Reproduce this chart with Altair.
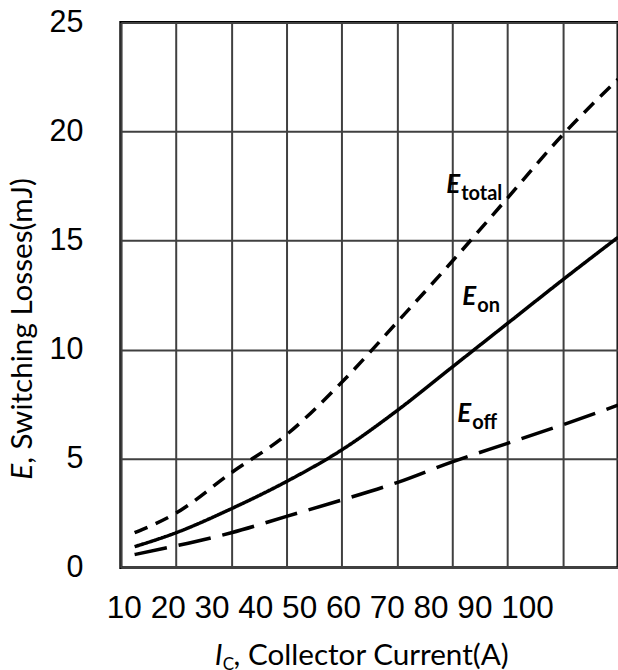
import altair as alt
import pandas as pd

# ---- data ----
ic = [12.5, 20, 30, 40, 50, 60, 70, 80, 90, 100]
e_total = [1.6, 2.5, 4.35, 6.1, 8.5, 11.25, 14.05, 16.95, 19.85, 22.4]
e_on = [0.96, 1.6, 2.7, 3.95, 5.4, 7.2, 9.2, 11.2, 13.2, 15.15]
e_off = [0.6, 1.0, 1.6, 2.35, 3.1, 3.9, 4.85, 5.7, 6.55, 7.45]

series_names = ["Etotal", "Eon", "Eoff"]
x_ticks = [10, 20, 30, 40, 50, 60, 70, 80, 90, 100]
y_ticks = [0, 5, 10, 15, 20, 25]

label_series = ["Etotal", "Eon", "Eoff"]
label_sub = ["total", "on", "off"]
label_x = [68.9, 71.8, 70.9]
label_y = [17.2, 12.04, 6.68]

rows = []
for name, vals in zip(series_names, [e_total, e_on, e_off]):
    for x, v in zip(ic, vals):
        rows.append({"ic": x, "e": v, "series": name})
df = pd.DataFrame(rows)

lab = pd.DataFrame({"series": label_series, "sub": label_sub, "x": label_x, "y": label_y})
ticks_df = pd.DataFrame({"v": x_ticks, "t": [str(v) for v in x_ticks]})
one = pd.DataFrame({"a": [0]})

W, H = 498, 546
xscale = alt.Scale(domain=[10, 100], nice=False, zero=False)
yscale = alt.Scale(domain=[0, 25], nice=False)

xaxis = alt.Axis(values=x_ticks, labels=False, ticks=False, domain=False, title=None,
                 grid=True, gridColor="#404040", gridWidth=2, gridOpacity=1)
yaxis = alt.Axis(values=y_ticks, ticks=False, tickSize=0, domain=False, title=None,
                 grid=True, gridColor="#404040", gridWidth=2, gridOpacity=1,
                 labelFont="Liberation Sans", labelFontSize=30.5, labelColor="black",
                 labelPadding=38)

lines = alt.Chart(df).mark_line(strokeWidth=3.5, interpolate="monotone", color="black",
                                strokeCap="butt").encode(
    x=alt.X("ic:Q", scale=xscale, axis=xaxis),
    y=alt.Y("e:Q", scale=yscale, axis=yaxis),
    strokeDash=alt.StrokeDash("series:N",
                              scale=alt.Scale(domain=series_names,
                                              range=[[14, 9], [1, 0], [33, 12]]),
                              legend=None),
    detail="series:N",
)

lab_E = alt.Chart(lab).mark_text(text="E", font="Lato", fontSize=26, fontStyle="italic",
                                 fontWeight="bold", align="left", baseline="alphabetic",
                                 color="black").encode(
    x=alt.X("x:Q", scale=xscale, axis=None), y=alt.Y("y:Q", scale=yscale, axis=yaxis))
lab_sub = alt.Chart(lab).mark_text(font="Lato", fontSize=20, fontWeight="bold", align="left",
                                   baseline="alphabetic", dx=15, dy=7, color="black").encode(
    x=alt.X("x:Q", scale=xscale, axis=None), y=alt.Y("y:Q", scale=yscale, axis=yaxis),
    text="sub:N")

tick_labels = alt.Chart(ticks_df).mark_text(font="Liberation Sans", fontSize=31.6,
                                            align="left", baseline="alphabetic",
                                            color="black").encode(
    x=alt.X("v:Q", scale=alt.Scale(domain=[10, 100], range=[-14, 381], nice=False, zero=False),
            axis=None),
    y=alt.value(596), text="t:N")

tfont = "Lato"
tsize = 29.7
xt_I = alt.Chart(one).mark_text(text="I", font=tfont, fontSize=tsize, fontStyle="italic",
                                align="right", baseline="alphabetic", color="black").encode(
    x=alt.value(102), y=alt.value(644))
xt_C = alt.Chart(one).mark_text(text="C", font=tfont, fontSize=17, align="left",
                                baseline="alphabetic", color="black").encode(
    x=alt.value(102), y=alt.value(649))
xt_rest = alt.Chart(one).mark_text(text=", Collector Current(A)", font=tfont, fontSize=tsize,
                                   align="left", baseline="alphabetic", color="black").encode(
    x=alt.value(113), y=alt.value(644))
yt_E = alt.Chart(one).mark_text(text="E", font=tfont, fontSize=tsize, fontStyle="italic",
                                align="right", baseline="alphabetic", angle=270,
                                color="black").encode(
    x=alt.value(-89), y=alt.value(442))
yt_rest = alt.Chart(one).mark_text(text=", Switching Losses(mJ)", font=tfont, fontSize=tsize,
                                   align="left", baseline="alphabetic", angle=270,
                                   color="black").encode(
    x=alt.value(-89), y=alt.value(442))

chart = alt.layer(lines, lab_E, lab_sub, tick_labels, xt_I, xt_C, xt_rest, yt_E, yt_rest).resolve_scale(
    x="independent"
).properties(
    width=W, height=H,
    autosize=alt.AutoSizeParams(type="none"),
    padding={"left": 121, "top": 22, "right": 0, "bottom": 102},
    background="white",
).configure_view(stroke="black", strokeWidth=3)

chart.save("out.html", embed_options={"renderer": "svg", "actions": False})
